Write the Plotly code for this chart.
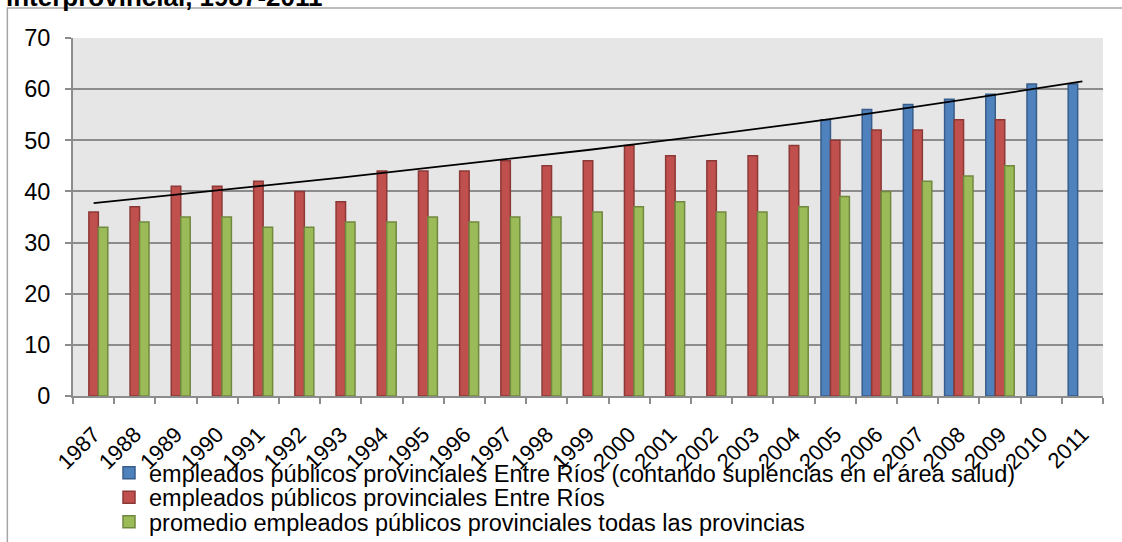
import plotly.graph_objects as go

# ---- data -------------------------------------------------------------
years = [str(y) for y in range(1987, 2012)]

# Entre Ríos, counting substitutions in the health area (2005-2011)
er_con_suplencias = [None] * 18 + [54, 56, 57, 58, 59, 61, 61]

# Entre Ríos provincial public employees (1987-2009)
er_empleados = [36, 37, 41, 41, 42, 40, 38, 44, 44, 44, 46, 45, 46,
                49, 47, 46, 47, 49, 50, 52, 52, 54, 54, None, None]

# average of provincial public employees across all provinces (1987-2009)
promedio_provincias = [33, 34, 35, 35, 33, 33, 34, 34, 35, 34, 35, 35, 36,
                       37, 38, 36, 36, 37, 39, 40, 42, 43, 45, None, None]

# trend line values
trend_years = ["1987", "1993", "1999", "2005", "2011"]
trend_values = [37.7, 42.7, 48.1, 54.3, 61.5]

y_ticks = [0, 10, 20, 30, 40, 50, 60, 70]

names = [
    "empleados públicos provinciales Entre Ríos (contando suplencias en el área salud)",
    "empleados públicos provinciales Entre Ríos",
    "promedio empleados públicos provinciales todas las provincias",
]

# ---- geometry helpers (pixel -> paper) ----------------------------------
W, H = 1122, 542
PL, PR, PT, PB = 72.7, 1103.3, 38.3, 396.0


def px_x(x):
    return (x - PL) / (PR - PL)


def px_y(y):
    return (PB - y) / (PB - PT)


FONT = "Liberation Sans, Arial, sans-serif"

fig = go.Figure()

fills = ["#4F81BD", "#C0504D", "#9BBB59"]
edges = ["#385D8A", "#8C3836", "#71893F"]
series = [er_con_suplencias, er_empleados, promedio_provincias]
legends = ["legend", "legend2", "legend3"]

for vals, name, fc, ec, lg in zip(series, names, fills, edges, legends):
    fig.add_trace(go.Bar(
        x=years, y=vals, name=name,
        marker=dict(color=fc, line=dict(color=ec, width=1.5)),
        legend=lg,
    ))

fig.add_trace(go.Scatter(
    x=trend_years, y=trend_values, mode="lines",
    line=dict(color="black", width=1.8, shape="spline"),
    showlegend=False, hoverinfo="skip",
))

legend_rows = [473, 497.5, 522]
legend_common = dict(
    xref="container", yref="container",
    x=109 / W, xanchor="left", yanchor="middle",
    bgcolor="rgba(0,0,0,0)",
    font=dict(family=FONT, size=23.5, color="black"),
    itemwidth=30,
)

fig.update_layout(
    width=W, height=H,
    margin=dict(l=PL, r=W - PR, t=PT, b=H - PB, pad=0, autoexpand=False),
    paper_bgcolor="white",
    plot_bgcolor="#E6E6E6",
    barmode="group",
    bargap=0.31,
    bargroupgap=0,
    font=dict(family=FONT, size=22, color="black"),
    legend=dict(y=1 - legend_rows[0] / H, **legend_common),
    legend2=dict(y=1 - legend_rows[1] / H, **legend_common),
    legend3=dict(y=1 - legend_rows[2] / H, **legend_common),
    xaxis=dict(
        type="category",
        tickangle=-45,
        tickson="boundaries",
        ticks="outside", ticklen=6, tickwidth=1.5, tickcolor="#8C8C8C",
        showline=True, linecolor="#8C8C8C", linewidth=2,
        showgrid=False,
        ticklabelstandoff=15,
        tickfont=dict(family=FONT, size=22, color="black"),
    ),
    yaxis=dict(
        range=[0, 70],
        tickvals=y_ticks,
        ticks="outside", ticklen=6, tickwidth=1.5, tickcolor="#8C8C8C",
        showline=True, linecolor="#8C8C8C", linewidth=2,
        showgrid=True, gridcolor="#8C8C8C", gridwidth=2,
        zeroline=False,
        ticklabelstandoff=10,
        tickfont=dict(family=FONT, size=23.5, color="black"),
    ),
    shapes=[
        dict(type="rect", xref="paper", yref="paper",
             x0=px_x(7), x1=px_x(1135), y0=px_y(560), y1=px_y(8.3),
             line=dict(color="#A6A6A6", width=1.5), fillcolor="rgba(0,0,0,0)",
             layer="below"),
    ],
    annotations=[
        dict(text="<b>interprovincial, 1987-2011</b>",
             xref="paper", yref="paper",
             x=px_x(325), y=px_y(14), xanchor="right", yanchor="bottom",
             showarrow=False,
             font=dict(family=FONT, size=26, color="black")),
    ],
)

fig.write_html("out.html")
